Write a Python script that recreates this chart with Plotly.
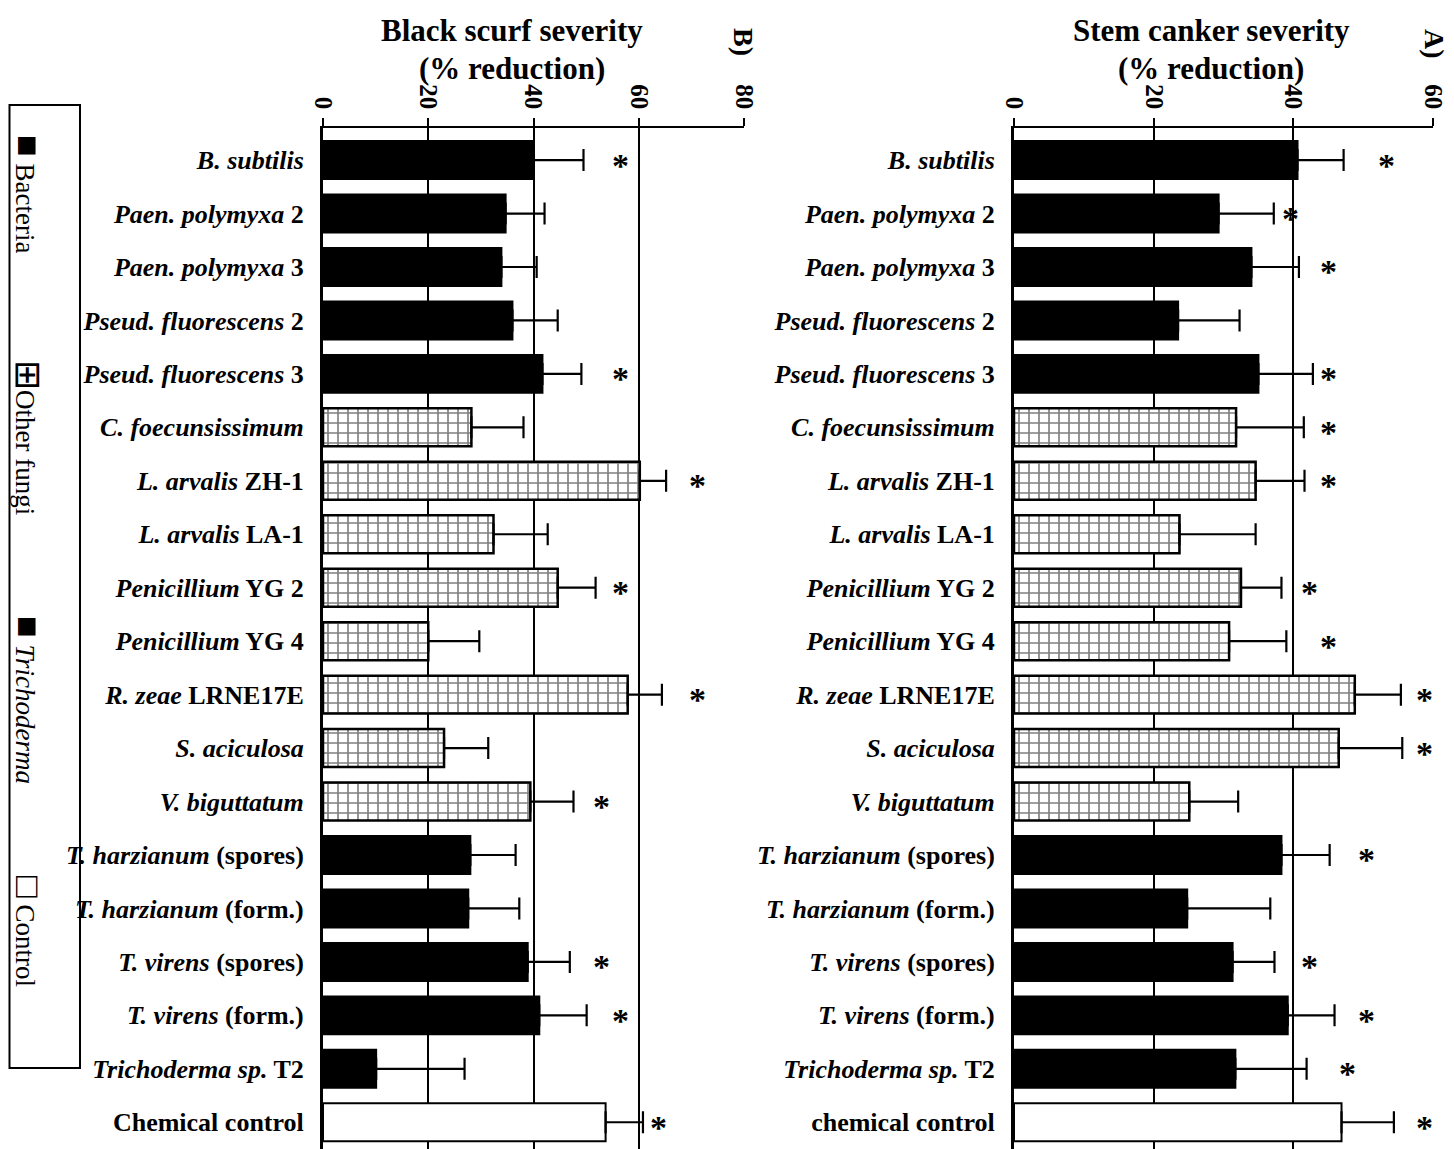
import plotly.graph_objects as go

# ---------------- data ----------------
labels_b = [
    "<b><i>B. subtilis</i></b>", "<b><i>Paen. polymyxa</i> 2</b>", "<b><i>Paen. polymyxa</i> 3</b>",
    "<b><i>Pseud. fluorescens</i> 2</b>", "<b><i>Pseud. fluorescens</i> 3</b>",
    "<b><i>C. foecunsissimum</i></b>", "<b><i>L. arvalis</i> ZH-1</b>", "<b><i>L. arvalis</i> LA-1</b>",
    "<b><i>Penicillium</i> YG 2</b>", "<b><i>Penicillium</i> YG 4</b>", "<b><i>R. zeae</i> LRNE17E</b>",
    "<b><i>S. aciculosa</i></b>", "<b><i>V. biguttatum</i></b>",
    "<b><i>T. harzianum</i> (spores)</b>", "<b><i>T. harzianum</i> (form.)</b>",
    "<b><i>T. virens</i> (spores)</b>", "<b><i>T. virens</i> (form.)</b>",
    "<b><i>Trichoderma sp.</i> T2</b>", "<b>Chemical control</b>",
]
labels_a = labels_b[:-1] + ["<b>chemical control</b>"]

groups = ["Bacteria"] * 5 + ["Other fungi"] * 8 + ["Trichoderma"] * 5 + ["Control"]

# Panel B: black scurf severity (% reduction)
scurf_vals = [40.0, 34.7, 33.9, 36.0, 41.7, 28.2, 60.2, 32.4, 44.6, 20.0, 57.9, 23.0, 39.4,
              28.0, 27.6, 38.9, 41.1, 10.1, 53.7]
scurf_err = [9.5, 7.4, 6.7, 8.6, 7.4, 9.9, 5.0, 10.3, 7.2, 9.7, 6.5, 8.4, 8.2,
             8.6, 9.7, 8.0, 9.0, 16.8, 7.1]
scurf_star_x = [56.5, None, None, None, 56.5, None, 71.1, None, 56.5, None, 71.1, None, 53.0,
                None, None, 53.0, 56.6, None, 63.7]

# Panel A: stem canker severity (% reduction)
canker_vals = [40.6, 29.3, 34.0, 23.5, 35.0, 31.8, 34.6, 23.7, 32.5, 30.8, 48.8, 46.5, 25.1,
               38.3, 24.8, 31.3, 39.2, 31.7, 46.9]
canker_err = [6.6, 7.9, 6.8, 8.8, 7.8, 9.7, 7.0, 10.9, 5.8, 8.2, 6.6, 9.1, 7.0,
              6.9, 11.9, 6.0, 6.7, 10.2, 7.5]
canker_star_x = [53.4, 39.6, 45.0, None, 45.0, 45.0, 45.0, None, 42.3, 45.0, 58.8, 58.8, None,
                 50.5, None, 42.3, 50.5, 47.8, 58.8]

ticks_b = [0, 20, 40, 60, 80]
ticks_a = [0, 20, 40, 60]

FONT = "Liberation Serif, Times New Roman, serif"

# page has an 8px body margin; figure is sized so it fits the 1454x1149 window
OFF = 8
W, H = 1454 - OFF, 1149 - OFF


def px(x):
    return (x - OFF) / W


def py(y):
    return 1 - (y - OFF) / H


style = {
    "Bacteria": dict(color="black", line=dict(color="black", width=2)),
    "Other fungi": dict(color="white", line=dict(color="black", width=2.5),
                        pattern=dict(shape="+", fgcolor="black", bgcolor="white", size=10, solidity=0.3)),
    "Trichoderma": dict(color="black", line=dict(color="black", width=2)),
    "Control": dict(color="white", line=dict(color="black", width=2)),
}

fig = go.Figure()


def add_panel(labels, vals, errs, stars, xa, ya):
    for g in ["Bacteria", "Other fungi", "Trichoderma", "Control"]:
        idx = [i for i, gg in enumerate(groups) if gg == g]
        fig.add_trace(go.Bar(
            y=[labels[i] for i in idx], x=[vals[i] for i in idx], orientation="h",
            marker=style[g], xaxis=xa, yaxis=ya, showlegend=False,
            error_x=dict(type="data", symmetric=False, array=[errs[i] for i in idx],
                         arrayminus=[0] * len(idx), color="black", thickness=2.2, width=11),
        ))
    for i, s in enumerate(stars):
        if s is None:
            continue
        fig.add_annotation(x=s, y=labels[i], xref=xa, yref=ya, text="<b>*</b>", showarrow=False,
                           font=dict(family=FONT, size=34, color="black"),
                           xanchor="center", yanchor="middle", yshift=-5)


add_panel(labels_b, scurf_vals, scurf_err, scurf_star_x, "x", "y")
add_panel(labels_a, canker_vals, canker_err, canker_star_x, "x2", "y2")

ytop = py(128)

xcommon = dict(side="top", tickangle=90, showgrid=True, gridcolor="black", gridwidth=2,
               showline=True, linecolor="black", linewidth=2, ticks="outside", ticklen=8,
               tickwidth=2, tickcolor="black", zeroline=False, automargin=False,
               tickfont=dict(family=FONT, size=25, color="black", weight="bold"))
ycommon = dict(type="category", categoryorder="array", range=[18.5, -0.6], showline=True,
               linecolor="black", linewidth=3, ticks="", showgrid=False, automargin=False,
               ticklabelstandoff=11, domain=[0, ytop],
               tickfont=dict(family=FONT, size=26, color="black"))

fig.update_layout(
    width=W, height=H, margin=dict(l=0, r=0, t=0, b=0),
    paper_bgcolor="white", plot_bgcolor="white", barmode="overlay", bargap=0.29,
    font=dict(family=FONT, color="black"),
    xaxis=dict(domain=[px(323), px(744)], range=[0, 80], tickvals=ticks_b, anchor="y", **xcommon),
    yaxis=dict(anchor="x", categoryarray=labels_b, **ycommon),
    xaxis2=dict(domain=[px(1014), px(1433)], range=[0, 60], tickvals=ticks_a, anchor="y2", **xcommon),
    yaxis2=dict(anchor="x2", categoryarray=labels_a, **ycommon),
)

tfont = dict(family=FONT, size=31, color="black", weight="bold")
for cx, l1, l2 in [(512, "Black scurf severity", "(% reduction)"),
                   (1211, "Stem canker severity", "(% reduction)")]:
    fig.add_annotation(x=px(cx), y=py(31), xref="paper", yref="paper", text=l1,
                       showarrow=False, font=tfont, xanchor="center", yanchor="middle")
    fig.add_annotation(x=px(cx), y=py(68), xref="paper", yref="paper", text=l2,
                       showarrow=False, font=tfont, xanchor="center", yanchor="middle")

for cx, cy, t in [(744, 42, "B)"), (1434, 44, "A)")]:
    fig.add_annotation(x=px(cx), y=py(cy), xref="paper", yref="paper", text=t, textangle=90,
                       showarrow=False, font=dict(family=FONT, size=28, color="black", weight="bold"),
                       xanchor="center", yanchor="middle")

# legend box (rotated)
fig.add_shape(type="rect", xref="paper", yref="paper", x0=px(9.5), x1=px(80),
              y0=py(1068), y1=py(105), line=dict(color="black", width=2),
              fillcolor="rgba(0,0,0,0)", layer="below")
lfont = dict(family=FONT, size=27, color="black")
sym = "<span style='font-size:36px'>{}</span>"
for cy, s, t in [(194, "■", " Bacteria"), (437, "⊞", "Other fungi"), (700, "■", " <i>Trichoderma</i>"),
                 (931, "□", " Control")]:
    fig.add_annotation(x=px(28), y=py(cy), xref="paper", yref="paper", text=sym.format(s) + t,
                       textangle=90, showarrow=False, font=lfont, xanchor="center", yanchor="middle")

fig.write_html("out.html")
